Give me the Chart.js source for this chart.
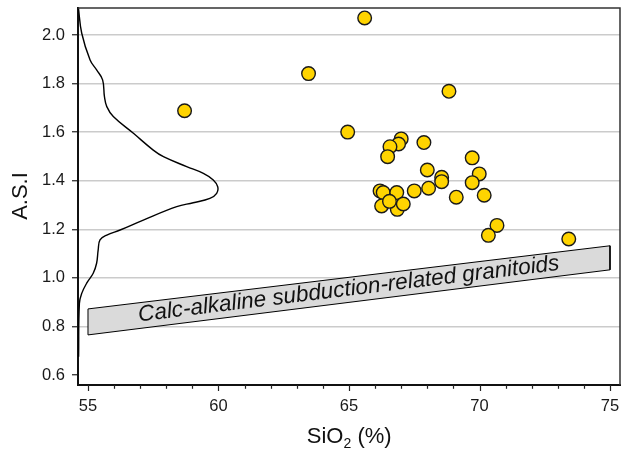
<!DOCTYPE html>
<html><head><meta charset="utf-8">
<script src="https://cdn.jsdelivr.net/npm/chart.js@4"></script>
<style>html,body{margin:0;padding:0;background:#fff}#wrap{width:622px;height:450px}</style>
</head><body><div id="wrap"><canvas id="c" width="622" height="450"></canvas></div>
<script>
// Sample points: SiO2 (%) vs A.S.I
const sampleSiO2 = [58.7, 63.45, 65.6, 68.83, 64.95, 67.0, 66.9, 66.57, 66.48, 67.87, 69.72, 68.0, 68.55, 68.55, 69.99, 69.72, 67.5, 68.05, 69.11, 70.18, 66.19, 66.31, 66.83, 66.25, 66.85, 67.08, 66.55, 70.67, 70.34, 73.42];
const sampleASI  = [1.688, 1.841, 2.07, 1.768, 1.60, 1.572, 1.551, 1.54, 1.499, 1.557, 1.494, 1.444, 1.414, 1.396, 1.428, 1.392, 1.358, 1.369, 1.332, 1.34, 1.358, 1.351, 1.351, 1.296, 1.282, 1.304, 1.315, 1.216, 1.175, 1.16];
// Density curve drawn along the left axis
const curveSiO2 = [54.63, 54.76, 55.08, 55.33, 55.56, 55.63, 55.72, 55.97, 56.74, 57.5, 57.89, 58.78, 59.42, 59.8, 59.97, 59.93, 59.67, 59.03, 58.4, 57.12, 56.23, 55.72, 55.46, 55.39, 55.33, 55.2, 54.95, 54.76, 54.67, 54.64];
const curveASI  = [2.114, 2.007, 1.897, 1.856, 1.815, 1.746, 1.705, 1.664, 1.595, 1.526, 1.499, 1.458, 1.430, 1.403, 1.375, 1.348, 1.327, 1.309, 1.293, 1.238, 1.197, 1.176, 1.156, 1.115, 1.06, 1.019, 0.978, 0.936, 0.895, 0.675];
// Calc-alkaline field (closed polygon)
const bandSiO2 = [55, 75, 75, 55, 55];
const bandASI  = [0.872, 1.132, 1.033, 0.765, 0.872];
const bandLabel = 'Calc-alkaline subduction-related granitoids';
const bandLabelAt = [65.02, 0.927];
// Axes
const xTickValues = [55,56,57,58,59,60,61,62,63,64,65,66,67,68,69,70,71,72,73,74,75];
const xLabelled = [55, 60, 65, 70, 75];
const yTickValues = [0.6, 0.8, 1.0, 1.2, 1.4, 1.6, 1.8, 2.0];
const yTickLabels = ['0.6', '0.8', '1.0', '1.2', '1.4', '1.6', '1.8', '2.0'];
const xTitle = ['SiO', '2', ' (%)'];
const yTitle = 'A.S.I';

const FONT = "'Liberation Sans', Arial, sans-serif";
const zip = (xs, ys) => xs.map((x, i) => ({x: x, y: ys[i]}));

const decor = {
  id: 'decor',
  afterDatasetsDraw(chart) {
    const c = chart.ctx, sx = chart.scales.x, sy = chart.scales.y;
    c.save();
    const px = sx.getPixelForValue(bandLabelAt[0]), py = sy.getPixelForValue(bandLabelAt[1]);
    c.translate(px, py);
    c.rotate(-7 * Math.PI / 180);
    c.font = 'italic 22.5px ' + FONT;
    c.fillStyle = '#111';
    c.textAlign = 'center';
    c.textBaseline = 'alphabetic';
    c.fillText(bandLabel, 0, 0);
    c.restore();
  },
  afterDraw(chart) {
    const c = chart.ctx, a = chart.chartArea, sx = chart.scales.x;
    c.save();
    c.strokeStyle = '#333';
    c.lineWidth = 1.5;
    c.beginPath();
    c.moveTo(a.left, a.top); c.lineTo(a.right, a.top); c.lineTo(a.right, a.bottom);
    c.stroke();
    // x ticks and labels
    c.strokeStyle = '#222';
    c.lineWidth = 1.2;
    c.fillStyle = '#1a1a1a';
    c.font = '16.5px ' + FONT;
    c.textAlign = 'center';
    c.textBaseline = 'top';
    xTickValues.forEach(v => {
      const major = xLabelled.includes(v);
      const x = Math.round(sx.getPixelForValue(v)) + 0.5;
      c.beginPath(); c.moveTo(x, a.bottom); c.lineTo(x, a.bottom + (major ? 6 : 3.8)); c.stroke();
      if (major) c.fillText(String(v), sx.getPixelForValue(v), a.bottom + 13);
    });
    c.fillStyle = '#111';
    c.font = '22px ' + FONT;
    c.textAlign = 'center';
    c.textBaseline = 'alphabetic';
    c.save();
    c.translate(26.7, 196);
    c.rotate(-Math.PI / 2);
    c.fillText(yTitle, 0, 0);
    c.restore();
    c.textAlign = 'left';
    const big = '22px ' + FONT, small = '14px ' + FONT;
    c.font = big; const w1 = c.measureText(xTitle[0]).width, w3 = c.measureText(xTitle[2]).width;
    c.font = small; const w2 = c.measureText(xTitle[1]).width;
    let x0 = 349.2 - (w1 + w2 + w3) / 2;
    const base = 442.5;
    c.font = big; c.fillText(xTitle[0], x0, base); x0 += w1;
    c.font = small; c.fillText(xTitle[1], x0, base + 5); x0 += w2;
    c.font = big; c.fillText(xTitle[2], x0, base);
    c.restore();
  }
};

new Chart(document.getElementById('c'), {
  type: 'scatter',
  data: {
    datasets: [
      {
        data: zip(sampleSiO2, sampleASI),
        pointRadius: 6.8,
        pointBackgroundColor: '#FFD400',
        pointBorderColor: '#1a1a1a',
        pointBorderWidth: 1.4,
        showLine: false
      },
      {
        type: 'line',
        data: zip(curveSiO2, curveASI),
        showLine: true,
        pointRadius: 0,
        borderColor: '#000',
        borderWidth: 1.4,
        tension: 0.4,
        fill: false
      },
      {
        type: 'line',
        data: zip(bandSiO2, bandASI),
        showLine: true,
        pointRadius: 0,
        borderColor: '#000',
        borderWidth: 1,
        backgroundColor: '#dadada',
        fill: 'shape',
        tension: 0
      }
    ]
  },
  options: {
    responsive: false,
    animation: false,
    events: [],
    layout: {autoPadding: false, padding: {top: 8, right: 2, left: 0, bottom: 0}},
    plugins: {legend: {display: false}, tooltip: {enabled: false}},
    scales: {
      x: {
        type: 'linear',
        min: 54.617, max: 75.383,
        afterBuildTicks: s => { s.ticks = xTickValues.map(v => ({value: v})); },
        afterFit: s => { s.height = 65; s.paddingLeft = 0; s.paddingRight = 0; },
        ticks: {display: false},
        grid: {display: false},
        border: {display: true, color: '#111', width: 2}
      },
      y: {
        type: 'linear',
        min: 0.5588, max: 2.111,
        afterBuildTicks: s => { s.ticks = yTickValues.map(v => ({value: v})); },
        afterFit: s => { s.width = 78; s.paddingTop = 0; s.paddingBottom = 0; },
        ticks: {
          padding: 7, color: '#1a1a1a', font: {family: FONT, size: 16.5},
          callback: (v) => { const i = yTickValues.findIndex(t => Math.abs(t - v) < 1e-6); return i >= 0 ? yTickLabels[i] : ''; }
        },
        grid: {
          display: true, drawTicks: true, tickLength: 6, tickWidth: 1.2, lineWidth: 1.5,
          color: c => (c.tick && Math.abs(c.tick.value - 0.6) < 1e-6) ? 'rgba(0,0,0,0)' : '#cbcbcb',
          tickColor: '#222'
        },
        border: {display: true, color: '#111', width: 2}
      }
    }
  },
  plugins: [decor]
});
</script>
</body></html>
